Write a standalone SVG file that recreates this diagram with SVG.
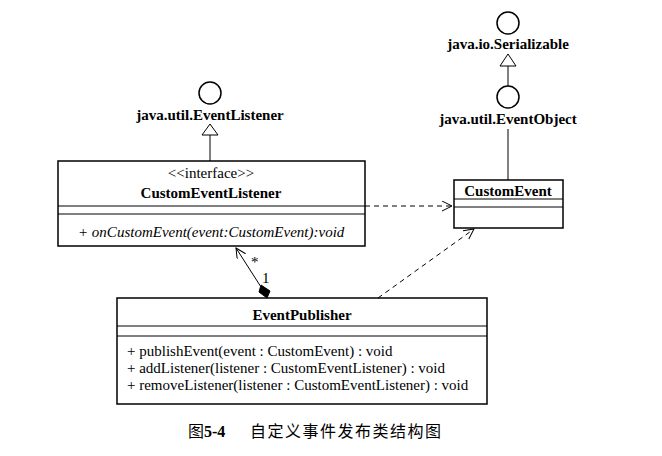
<svg xmlns="http://www.w3.org/2000/svg" width="662" height="456" viewBox="0 0 662 456">
<style>
.box{fill:#fff;stroke:#000;stroke-width:1.5}
.ln{stroke:#000;stroke-width:1;fill:none}
.t{font-family:"Liberation Serif","Times New Roman",serif;font-size:15px;fill:#000}
.b{font-weight:bold}
.i{font-style:italic}
.dash{stroke:#000;stroke-width:1;fill:none;stroke-dasharray:5,4}
.cap{font-family:"Liberation Serif","Noto Sans CJK SC",serif;font-size:16px;fill:#000}
.iface{fill:#fff;stroke:#000;stroke-width:1.5}
</style>
<defs>
<marker id="open" markerWidth="12" markerHeight="12" refX="10" refY="5" orient="auto" markerUnits="userSpaceOnUse">
<path d="M0,0 L10,5 L0,10" fill="none" stroke="#000" stroke-width="1"/>
</marker>
</defs>
<rect width="662" height="456" fill="#fff"/>

<g id="serializable">
<circle class="iface" cx="508" cy="23" r="11"/>
<text class="t b" x="508" y="49" text-anchor="middle">java.io.Serializable</text>
</g>
<g id="eventobject">
<circle class="iface" cx="508" cy="97" r="11"/>
<text class="t b" x="508" y="124" text-anchor="middle">java.util.EventObject</text>
</g>
<g id="eventlistener">
<circle class="iface" cx="210" cy="93" r="11"/>
<text class="t b" x="210" y="120" text-anchor="middle">java.util.EventListener</text>
</g>

<g id="customeventlistener">
<rect class="box" x="58" y="161" width="307" height="85"/>
<line class="ln" x1="58" y1="206" x2="365" y2="206"/>
<line class="ln" x1="58" y1="214" x2="365" y2="214"/>
<text class="t" x="211" y="178" text-anchor="middle">&lt;&lt;interface&gt;&gt;</text>
<text class="t b" x="211" y="198" text-anchor="middle">CustomEventListener</text>
<text class="t i" x="78" y="237">+ onCustomEvent(event:CustomEvent):void</text>
</g>

<g id="customevent">
<rect class="box" x="454" y="180" width="109" height="48"/>
<line class="ln" x1="454" y1="199" x2="563" y2="199"/>
<line class="ln" x1="454" y1="207" x2="563" y2="207"/>
<text class="t b" x="508" y="196" text-anchor="middle">CustomEvent</text>
</g>

<g id="eventpublisher">
<rect class="box" x="117" y="298" width="370" height="106"/>
<line class="ln" x1="117" y1="326" x2="487" y2="326"/>
<line class="ln" x1="117" y1="336" x2="487" y2="336"/>
<text class="t b" x="302" y="320" text-anchor="middle">EventPublisher</text>
<text class="t" x="127" y="356">+ publishEvent(event : CustomEvent) : void</text>
<text class="t" x="127" y="373">+ addListener(listener : CustomEventListener) : void</text>
<text class="t" x="127" y="390">+ removeListener(listener : CustomEventListener) : void</text>
</g>

<g id="connectors">
<line class="ln" x1="508" y1="66" x2="508" y2="86"/>
<path d="M508,54 L516,66 L500,66 Z" fill="#fff" stroke="#000" stroke-width="1"/>
<line class="ln" x1="508" y1="129" x2="508" y2="180"/>
<line class="ln" x1="210" y1="135" x2="210" y2="161"/>
<path d="M210,124 L218,135 L202,135 Z" fill="#fff" stroke="#000" stroke-width="1"/>
<line class="dash" x1="365" y1="206" x2="452" y2="206" marker-end="url(#open)"/>
<line class="dash" x1="378" y1="298" x2="474" y2="229" marker-end="url(#open)"/>
<line class="ln" x1="261" y1="287" x2="236" y2="248" marker-end="url(#open)"/>
<path d="M267,298 L270,291 L261,285 L259,292 Z" fill="#000" stroke="#000" stroke-width="1"/>
<text class="t" x="251" y="267">*</text>
<text class="t" x="262" y="283">1</text>
</g>

<text class="cap" x="188" y="437">图<tspan font-weight="bold">5-4</tspan></text>
<text class="cap" x="250" y="437" letter-spacing="1.5">自定义事件发布类结构图</text>
</svg>
